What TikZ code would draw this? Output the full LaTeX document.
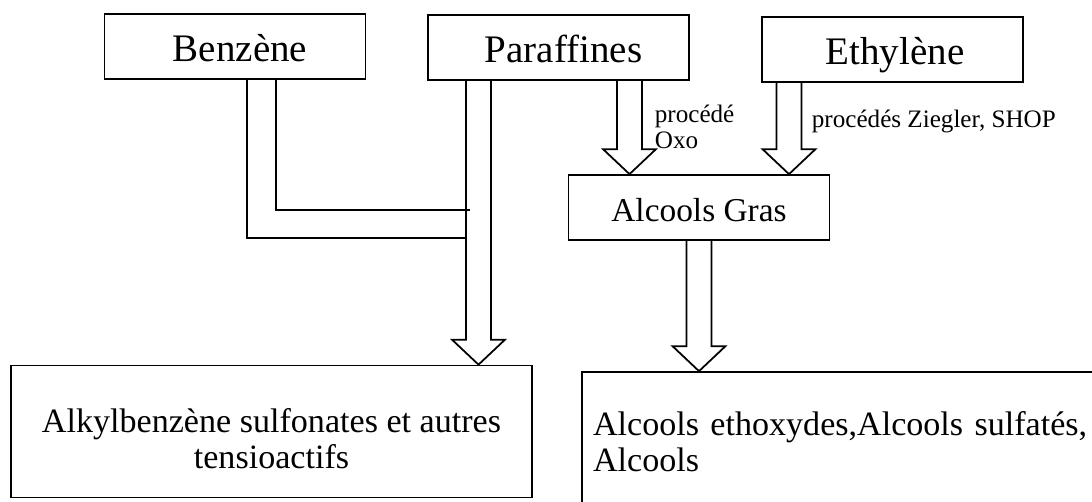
\documentclass[tikz,border=0pt]{standalone}
\usepackage{fontspec}
\setmainfont{Liberation Serif}
\usetikzlibrary{calc}
\tikzset{
  diagram/.style={
    x=0.02cm,
    y=-0.02cm,
    line width=1pt,
    line join=miter,
  },
  source box/.style={
    draw,
    inner sep=0pt,
    minimum width=5.22cm,
    minimum height=1.3cm,
    text height=18pt,
    text depth=0.4pt,
    font=\fontsize{22.2}{25}\selectfont
  },
  product box/.style={
    draw,
    inner sep=0pt,
    minimum height=2.64cm,
    font=\fontsize{19.4}{20.5}\selectfont
  },
  process label/.style={
    inner sep=0pt,
    align=left,
    font=\fontsize{14.3}{14.8}\selectfont
  }
}
% hollow block arrow: #1 start (source bottom), #2 tip (target top)
\newcommand{\hollowarrow}[2]{%
  \draw ($(#1)+(-12.5,0)$) -- ($(#2)+(-12.5,-25)$) -- ++(-14,0)
    -- (#2) -- ++(26.5,-25) -- ++(-14,0) -- ($(#1)+(12.5,0)$);
}

\begin{document}
\begin{tikzpicture}[diagram]
\useasboundingbox (0,0) rectangle (1092,501);
\clip (0,0) rectangle (1092,501);
\node (benz) at (235,46.5) [source box] {\hspace*{0.2cm}Benzène};
\node (para) at (558.5,47.5) [source box] {\hspace*{0.2cm}Paraffines};
\node (eth) at (892.5,49.5) [source box] {\hspace*{0.1cm}Ethylène};
\node (gras) at (699,207.5) [source box,text height=16.6pt,text depth=0.2pt,
  font=\fontsize{19}{22}\selectfont] {Alcools Gras};
\node (alkyl) at (271.5,431.5) [product box,minimum width=10.42cm]
  {\raisebox{-0.24cm}[\height][\depth]{\begin{tabular}{@{}c@{}}
  Alkylbenzène sulfonates et autres\\tensioactifs\end{tabular}}};
\node (alco) at (843,442) [product box,minimum width=10.44cm,minimum height=2.8cm,
  text width=10cm,align=left] {Alcools ethoxydes,Alcools sulfatés,\\Alcools};
\coordinate (c1) at (478.5,0);
\coordinate (c2) at (629.5,0);
\coordinate (c3) at (789,0);
\coordinate (c4) at (699,0);
\hollowarrow{para.south -| c1}{alkyl.north -| c1}
\hollowarrow{para.south -| c2}{gras.north -| c2}
\hollowarrow{eth.south -| c3}{gras.north -| c3}
\hollowarrow{gras.south -| c4}{alco.north -| c4}
% benzene feeds into the paraffines arrow
\coordinate (b1) at (247,238);
\coordinate (b2) at (276,210);
\draw (benz.south -| b1) |- ($(c1 |- b1)+(-12.5,0)$);
\draw (benz.south -| b2) |- ($(c1 |- b2)+(-9,0)$);
\node (oxo) at (654,104) [process label,anchor=north west] {procédé\\Oxo};
\node (zieg) at (811,127) [process label,anchor=base west] {procédés Ziegler, SHOP};
\end{tikzpicture}
\end{document}
